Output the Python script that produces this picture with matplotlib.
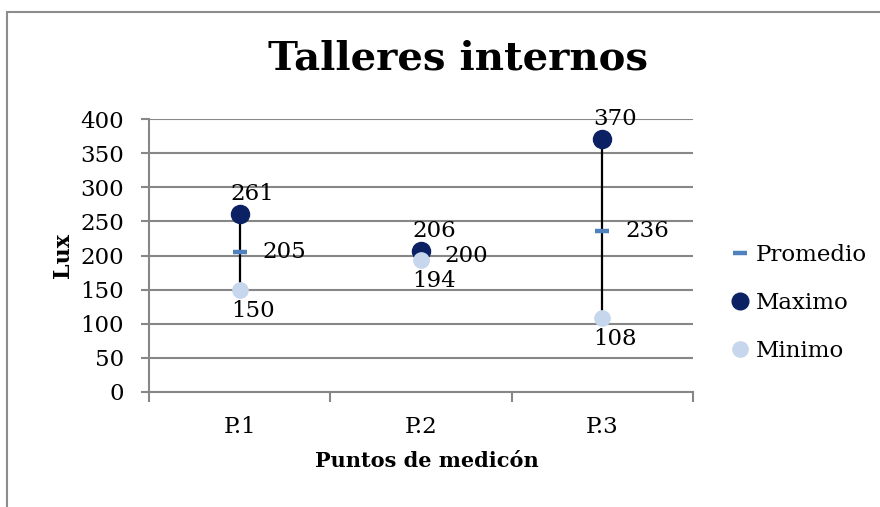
import matplotlib
matplotlib.use("Agg")
import matplotlib.pyplot as plt
from matplotlib.lines import Line2D
from matplotlib.patches import Rectangle

categories = ["P.1", "P.2", "P.3"]
promedio = [205, 200, 236]
maximo = [261, 206, 370]
minimo = [150, 194, 108]
y_ticks = [0, 50, 100, 150, 200, 250, 300, 350, 400]
title = "Talleres internos"
xlabel = "Puntos de medicón"
ylabel = "Lux"

plt.rcParams['font.family'] = ['DejaVu Serif']
FS = 16.5
GRAY = '#878787'
C_MAX = '#0b2163'
C_MIN = '#c6d6ec'
C_AVG = '#4f81bd'

fig = plt.figure(figsize=(8.8, 5.07), dpi=100)
W, H = 880, 507
fig.patches.append(Rectangle((7 / W, -0.1), 1.2, 1 - 12 / H + 0.1, transform=fig.transFigure,
                             fill=False, edgecolor='#8c8c8c', linewidth=1.5))

ax = fig.add_axes([149 / W, 1 - 392 / H, (693 - 149) / W, (392 - 119) / H])
x = list(range(len(categories)))

ax.set_ylim(0, 400)
ax.set_xlim(-0.5, len(categories) - 0.5)
ax.set_yticks(y_ticks)
ax.set_yticklabels([str(v) for v in y_ticks], fontsize=FS)
ax.yaxis.grid(True, color=GRAY, linewidth=1.5)
ax.set_axisbelow(True)

ax.set_xticks([i - 0.5 for i in range(len(categories) + 1)])
ax.set_xticklabels([])
ax.set_xticks(x, minor=True)
ax.set_xticklabels(categories, minor=True, fontsize=FS)
ax.tick_params(axis='x', which='minor', length=0, pad=17)
ax.tick_params(axis='x', which='major', length=7, width=1.5, color=GRAY, direction='out')
ax.tick_params(axis='y', length=6, width=1.5, color=GRAY, pad=12)

for s in ['top', 'right']:
    ax.spines[s].set_visible(False)
for s in ['left', 'bottom']:
    ax.spines[s].set_color(GRAY)
    ax.spines[s].set_linewidth(1.5)

ax.vlines(x, minimo, maximo, colors='black', linewidth=1.6, zorder=3)
ax.plot(x, promedio, linestyle='none', marker='_', ms=10.5, mew=3.2, color=C_AVG, zorder=4, label='Promedio')
ax.plot(x, maximo, linestyle='none', marker='o', ms=13, color=C_MAX, zorder=5, label='Maximo')
ax.plot(x, minimo, linestyle='none', marker='o', ms=11, color=C_MIN, zorder=6, label='Minimo')

for xi, v in zip(x, maximo):
    ax.annotate(str(v), (xi, v), xytext=(13, 20), textcoords='offset pixels',
                ha='center', va='center', fontsize=FS)
for xi, v in zip(x, minimo):
    ax.annotate(str(v), (xi, v), xytext=(13, -21), textcoords='offset pixels',
                ha='center', va='center', fontsize=FS)
for xi, v in zip(x, promedio):
    ax.annotate(str(v), (xi, v), xytext=(45, 0), textcoords='offset pixels',
                ha='center', va='center', fontsize=FS)

ax.set_ylabel(ylabel, fontsize=16, fontweight='bold')
ax.yaxis.set_label_coords(-0.138, 0.5)
ax.set_xlabel(xlabel, fontsize=15, fontweight='bold')
ax.xaxis.set_label_coords(0.511, -0.215)

fig.text(458 / W, 1 - 58 / H, title, ha='center', va='center', fontsize=29, fontweight='bold')

handles = [
    Line2D([], [], linestyle='none', marker='_', ms=10.5, mew=3.2, color=C_AVG),
    Line2D([], [], linestyle='none', marker='o', ms=12, color=C_MAX),
    Line2D([], [], linestyle='none', marker='o', ms=11, color=C_MIN),
]
leg = fig.legend(handles, ['Promedio', 'Maximo', 'Minimo'], loc='center left',
                 bbox_to_anchor=(721 / W, 1 - 303 / H), frameon=False, fontsize=FS,
                 handlelength=0.7, handletextpad=0.3, labelspacing=1.13, borderpad=0)

fig.savefig('out.png', dpi=100)
